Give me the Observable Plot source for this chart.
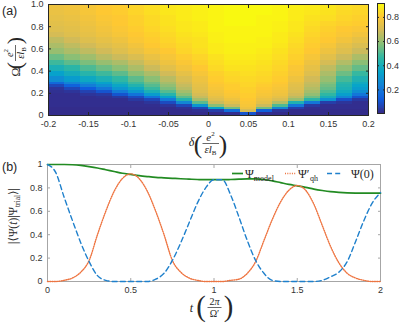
<!DOCTYPE html>
<html><head><meta charset="utf-8">
<script src="https://cdn.jsdelivr.net/npm/d3@7"></script>
<script src="https://cdn.jsdelivr.net/npm/@observablehq/plot@0.6"></script>
<style>
html,body{margin:0;padding:0;background:#fff;}
#fig{position:relative;width:399px;height:323px;overflow:hidden;background:#fff;}
#fig svg{position:absolute;}
</style></head><body><div id="fig"></div>
<script>
// ---------- Panel (a): heatmap data ----------
const deltas = [-0.19,-0.17,-0.15,-0.13,-0.11,-0.09,-0.07,-0.05,-0.03,-0.01,0.01,0.03,0.05,0.07,0.09,0.11,0.13,0.15,0.17,0.19];
const omegaEdges = [0,0.025,0.05,0.075,0.1,0.125,0.15,0.175,0.2,0.225,0.25,0.275,0.3,0.35,0.4,0.45,0.5,0.55,0.6,0.65,0.7,0.75,0.8,0.85,0.9,0.95,1];
// one list per delta column, values from Omega = 0 upward
const overlap = [
 [.01,.01,.01,.015,.015,.015,.015,.015,.02,.03,.07,.16,.27,.34,.41,.48,.54,.60,.63,.66,.70,.72,.73,.74,.75,.76],
 [.01,.01,.01,.015,.015,.015,.015,.015,.03,.07,.14,.24,.32,.39,.45,.52,.58,.63,.66,.69,.72,.73,.74,.75,.76,.77],
 [.01,.01,.01,.015,.015,.015,.015,.03,.06,.12,.22,.29,.37,.44,.50,.56,.61,.66,.69,.72,.74,.75,.76,.77,.78,.78],
 [.01,.01,.01,.015,.015,.015,.02,.04,.10,.20,.28,.34,.41,.48,.54,.60,.65,.69,.72,.74,.76,.77,.78,.79,.80,.80],
 [.01,.01,.01,.015,.015,.015,.04,.10,.21,.30,.36,.41,.46,.52,.58,.63,.68,.72,.74,.76,.78,.79,.80,.80,.81,.81],
 [.01,.01,.01,.015,.015,.04,.08,.19,.30,.37,.43,.48,.52,.58,.63,.67,.71,.75,.77,.79,.80,.81,.82,.82,.83,.83],
 [.01,.01,.01,.015,.03,.07,.19,.32,.41,.47,.51,.54,.58,.63,.68,.72,.75,.78,.80,.81,.82,.83,.84,.84,.85,.85],
 [.01,.01,.01,.03,.08,.21,.34,.44,.51,.56,.59,.62,.65,.69,.73,.76,.78,.80,.82,.83,.84,.85,.86,.86,.87,.87],
 [.01,.01,.02,.07,.25,.43,.52,.58,.62,.65,.67,.69,.71,.74,.77,.79,.81,.83,.84,.85,.86,.87,.87,.88,.88,.88],
 [.01,.02,.07,.30,.52,.62,.67,.70,.72,.73,.74,.75,.76,.78,.80,.82,.83,.85,.86,.86,.87,.88,.88,.89,.89,.89],
 [.01,.05,.35,.58,.68,.72,.74,.76,.77,.78,.79,.80,.81,.82,.84,.85,.86,.88,.88,.89,.89,.90,.90,.90,.90,.90],
 [.015,.17,.55,.68,.73,.76,.78,.79,.80,.81,.81,.82,.83,.84,.86,.87,.88,.89,.89,.90,.90,.90,.91,.91,.91,.91],
 [.10,.70,.76,.78,.79,.80,.81,.81,.82,.82,.83,.83,.84,.85,.86,.87,.88,.89,.89,.90,.90,.90,.91,.91,.91,.91],
 [.015,.13,.55,.68,.73,.75,.77,.78,.79,.80,.81,.82,.83,.84,.85,.86,.87,.88,.89,.89,.90,.90,.90,.90,.91,.91],
 [.01,.03,.25,.50,.64,.71,.74,.76,.77,.78,.79,.80,.81,.82,.83,.84,.85,.86,.87,.88,.88,.89,.89,.90,.90,.90],
 [.01,.01,.05,.20,.42,.60,.66,.69,.71,.72,.73,.74,.76,.78,.79,.81,.82,.83,.84,.85,.86,.87,.87,.88,.88,.89],
 [.01,.01,.015,.04,.20,.45,.54,.59,.62,.64,.66,.67,.69,.72,.74,.76,.78,.80,.81,.82,.83,.84,.85,.86,.87,.88],
 [.01,.01,.015,.015,.05,.28,.40,.46,.50,.53,.55,.57,.60,.63,.66,.70,.73,.76,.78,.80,.81,.82,.83,.85,.86,.87],
 [.01,.01,.015,.015,.03,.09,.25,.33,.38,.41,.43,.45,.49,.54,.59,.64,.68,.72,.74,.77,.79,.80,.82,.83,.84,.85],
 [.01,.01,.015,.015,.015,.04,.10,.20,.27,.32,.35,.38,.42,.47,.53,.58,.63,.68,.71,.74,.77,.79,.81,.82,.83,.84]
];
const xTicksA = [-0.2,-0.15,-0.1,-0.05,0,0.05,0.1,0.15,0.2];
const xTickLabelsA = ["-0.2","-0.15","-0.1","-0.05","0","0.05","0.1","0.15","0.2"];
const yTicksA = [0,0.2,0.4,0.6,0.8,1];
const yTickLabelsA = ["0","0.2","0.4","0.6","0.8","1.0"];
const colorDomain = [0.005, 0.915];
const cbTicks = [0.2,0.4,0.6,0.8];
const cbTickLabels = ["0.2","0.4","0.6","0.8"];
const parula = ["#352a87","#0f5cdd","#1481d6","#06a4ca","#2eb7a4","#87bf77","#d1bb59","#fec832","#f9fb0e"];

// ---------- Panel (b): time series ----------
const tVals = [0,0.05,0.1,0.15,0.2,0.25,0.3,0.35,0.4,0.45,0.5,0.55,0.6,0.65,0.7,0.75,0.8,0.85,0.9,0.95,1,1.05,1.1,1.15,1.2,1.25,1.3,1.35,1.4,1.45,1.5,1.55,1.6,1.65,1.7,1.75,1.8,1.85,1.9,1.95,2];
const psiModel = [1.0,1.0,1.0,0.998,0.992,0.982,0.97,0.955,0.94,0.925,0.915,0.905,0.897,0.89,0.886,0.882,0.878,0.875,0.872,0.87,0.87,0.87,0.872,0.875,0.877,0.877,0.872,0.86,0.845,0.83,0.818,0.805,0.79,0.778,0.768,0.762,0.758,0.756,0.755,0.755,0.755];
const psiQh = [0,0,0.01,0.03,0.08,0.18,0.4,0.6,0.77,0.88,0.92,0.88,0.77,0.6,0.4,0.18,0.08,0.03,0.01,0,0,0,0.01,0.02,0.07,0.17,0.35,0.53,0.68,0.78,0.82,0.78,0.66,0.48,0.3,0.16,0.07,0.03,0.01,0,0];
const psi0 = [1.0,0.93,0.72,0.52,0.33,0.17,0.05,0.01,0,0,0,0,0,0.02,0.07,0.18,0.33,0.5,0.67,0.8,0.87,0.87,0.74,0.55,0.35,0.18,0.07,0.01,0,0,0,0,0,0.01,0.04,0.08,0.17,0.34,0.52,0.67,0.76];
const xTicksB = [0,0.5,1,1.5,2];
const xTickLabelsB = ["0","0.5","1","1.5","2"];
const yTicksB = [0,0.2,0.4,0.6,0.8,1];
const yTickLabelsB = ["0","0.2","0.4","0.6","0.8","1"];
const seriesColors = {model:"#228b22", qh:"#ee7440", init:"#1f80cc"};
const dotted = "1,1.3", dashed = "5,3.2";

// ---------- helpers ----------
const fig = document.getElementById("fig");
const lab = (ticks, labels) => d => labels[ticks.indexOf(d)] ?? "";
const colorScale = {
  type: "linear",
  domain: parula.map((_, k) => colorDomain[0] + k / (parula.length - 1) * (colorDomain[1] - colorDomain[0])),
  range: parula, interpolate: "rgb", clamp: true
};
function boxAxes(xT, xL, yT, yL, tickColor, padX, padY) {
  return [
    Plot.axisX(xT, {anchor:"bottom", tickSize:0, tickPadding:padX, tickFormat:lab(xT,xL), label:null}),
    Plot.axisY(yT, {anchor:"left", tickSize:0, tickPadding:padY, tickFormat:lab(yT,yL), label:null}),
    Plot.axisX(xT, {anchor:"bottom", tickSize:3, dy:-3, tickFormat:()=>"", label:null, stroke:tickColor}),
    Plot.axisX(xT, {anchor:"top", tickSize:3, dy:3, tickFormat:()=>"", label:null, stroke:tickColor}),
    Plot.axisY(yT, {anchor:"left", tickSize:3, dx:3, tickFormat:()=>"", label:null, stroke:tickColor}),
    Plot.axisY(yT, {anchor:"right", tickSize:3, dx:-3, tickFormat:()=>"", label:null, stroke:tickColor}),
    Plot.frame({stroke:tickColor})
  ];
}
const baseStyle = {fontFamily:"'Liberation Sans', Arial, sans-serif", fontSize:"9px", color:"#333", background:"transparent", overflow:"visible"};

// ---------- Panel (a) ----------
const half = (deltas[1] - deltas[0]) / 2;
const cells = deltas.flatMap((d, i) => overlap[i].map((v, j) => ({x1: d - half, x2: d + half, y1: omegaEdges[j], y2: omegaEdges[j + 1], v})));
const plotA = Plot.plot({
  width: 399, height: 160,
  marginLeft: 48, marginRight: 31, marginTop: 4, marginBottom: 45,
  x: {domain: [-0.2, 0.2]},
  y: {domain: [0, 1]},
  color: colorScale,
  style: baseStyle,
  marks: [
    Plot.rect(cells, {x1:"x1", x2:"x2", y1:"y1", y2:"y2", fill:"v", shapeRendering:"crispEdges"}),
    ...boxAxes(xTicksA, xTickLabelsA, yTicksA, yTickLabelsA, "#262626", 5, 5)
  ]
});
plotA.style.left = "0px"; plotA.style.top = "0px";
fig.appendChild(plotA);

// ---------- colorbar ----------
const nSteps = 120;
const cbStep = (colorDomain[1] - colorDomain[0]) / nSteps;
const cbValues = d3.range(nSteps).map(k => colorDomain[0] + (k + 0.5) * cbStep);
const plotCb = Plot.plot({
  width: 29, height: 120,
  marginLeft: 7, marginRight: 15, marginTop: 3, marginBottom: 7,
  x: {domain: [0, 1], axis: null},
  y: {domain: colorDomain},
  color: colorScale,
  style: baseStyle,
  marks: [
    Plot.rect(cbValues, {x1: 0, x2: 1, y1: d => d - cbStep / 2, y2: d => d + cbStep / 2, fill: d => d, shapeRendering:"crispEdges"}),
    Plot.axisY(cbTicks, {anchor:"right", tickSize:0, tickPadding:2, tickFormat:lab(cbTicks, cbTickLabels), label:null}),
    Plot.axisY(cbTicks, {anchor:"right", tickSize:2, dx:-2, tickFormat:()=>"", label:null, stroke:"#262626"}),
    Plot.axisY(cbTicks, {anchor:"left", tickSize:2, dx:2, tickFormat:()=>"", label:null, stroke:"#262626"}),
    Plot.frame({stroke:"#262626"})
  ]
});
plotCb.style.left = "370px"; plotCb.style.top = "0px";
fig.appendChild(plotCb);

// ---------- Panel (b) ----------
const rows = (vals) => tVals.map((t, i) => ({t, v: vals[i]}));
const plotB = Plot.plot({
  width: 399, height: 163,
  marginLeft: 47, marginRight: 19, marginTop: 4, marginBottom: 42,
  x: {domain: [0, 2]},
  y: {domain: [0, 1]},
  style: baseStyle,
  marks: [
    ...boxAxes(xTicksB, xTickLabelsB, yTicksB, yTickLabelsB, "#a6a6a6", 5, 5),
    Plot.line(rows(psiModel), {x:"t", y:"v", stroke:seriesColors.model, strokeWidth:1.7, curve:"monotone-x"}),
    Plot.line(rows(psiQh), {x:"t", y:"v", stroke:seriesColors.qh, strokeWidth:1.4, strokeDasharray:dotted, curve:"monotone-x"}),
    Plot.line(rows(psi0), {x:"t", y:"v", stroke:seriesColors.init, strokeWidth:1.4, strokeDasharray:dashed, curve:"monotone-x"})
  ]
});
plotB.style.left = "0px"; plotB.style.top = "160px";
fig.appendChild(plotB);

// ---------- overlay text (panel letters, math labels, legend) ----------
const ov = d3.select(fig).append("svg").attr("width", 399).attr("height", 323)
  .style("left", "0px").style("top", "0px").style("pointer-events", "none")
  .attr("font-family", "'Liberation Serif','DejaVu Serif',serif").attr("fill", "#262626");
function txt(g, x, y, parts, size, anchor) {
  const t = g.append("text").attr("x", x).attr("y", y).attr("font-size", size).attr("text-anchor", anchor || "start");
  for (const p of parts) {
    const s = t.append("tspan").text(p.t);
    if (p.i) s.attr("font-style", "italic");
    if (p.s) s.attr("font-size", p.s);
    if (p.dy) s.attr("dy", p.dy);
    if (p.dx) s.attr("dx", p.dx);
  }
  return t;
}
function paren(g, ch, x, yTop, yBot) {
  const s = (yBot - yTop) / 0.871, base = yBot - 0.177 * s;
  g.append("text").attr("x", x).attr("y", base).attr("text-anchor", "middle").attr("font-size", s.toFixed(1)).text(ch);
}
function hline(g, x1, x2, y) {
  g.append("line").attr("x1", x1).attr("x2", x2).attr("y1", y).attr("y2", y).attr("stroke", "#262626").attr("stroke-width", 0.7);
}
// panel letters
ov.append("text").attr("x", 2).attr("y", 15).attr("font-family", "'Liberation Sans',Arial,sans-serif").attr("font-size", 12.5).text("(a)");
ov.append("text").attr("x", 2).attr("y", 171).attr("font-family", "'Liberation Sans',Arial,sans-serif").attr("font-size", 12.5).text("(b)");

// (a) x label: δ (e²/εl_B)
txt(ov, 191.5, 146, [{t:"δ", i:1}], 12, "middle");
paren(ov, "(", 198, 135, 157);
txt(ov, 210.5, 140.5, [{t:"e", i:1}, {t:"2", s:7, dy:-4.5}], 11, "middle");
hline(ov, 202.5, 219, 143.5);
txt(ov, 210.5, 152.5, [{t:"ε", i:1}, {t:"l", i:1}, {t:"B", s:7, dy:2.5}], 11, "middle");
paren(ov, ")", 223, 135, 157);

// (a) y label: Ω (e²/εl_B)
const gy = ov.append("g").attr("transform", "translate(15,58) rotate(-90)");
txt(gy, -14, 4.5, [{t:"Ω"}], 12, "middle");
paren(gy, "(", -7.5, -8.5, 10.5);
txt(gy, 5, -2.5, [{t:"e", i:1}, {t:"2", s:7, dy:-4.5}], 10.5, "middle");
hline(gy, -3, 13, 0.5);
txt(gy, 5, 9, [{t:"ε", i:1}, {t:"l", i:1}, {t:"B", s:7, dy:2}], 10.5, "middle");
paren(gy, ")", 17.5, -8.5, 10.5);

// (b) y label: |⟨Ψ(t)|Ψ_trial⟩|
const gy2 = ov.append("g").attr("transform", "translate(13,216) rotate(-90)");
txt(gy2, 0, 4, [{t:"|⟨Ψ("}, {t:"t", i:1}, {t:")|Ψ"}, {t:"trial", s:7.5, dy:2.5}, {t:"⟩|", dy:-2.5}], 11.5, "middle");

// (b) x label: t (2π/Ω′)
txt(ov, 191.5, 312, [{t:"t", i:1}], 12, "middle");
paren(ov, "(", 201, 296, 321);
txt(ov, 214.5, 305, [{t:"2"}, {t:"π", i:1}], 10, "middle");
hline(ov, 207.5, 221.5, 307.5);
txt(ov, 214.5, 317, [{t:"Ω′"}], 10, "middle");
paren(ov, ")", 228.5, 296, 321);

// (b) legend
const ly = 173.5;
ov.append("line").attr("x1", 232).attr("x2", 243).attr("y1", ly).attr("y2", ly).attr("stroke", seriesColors.model).attr("stroke-width", 1.7);
txt(ov, 245, 178, [{t:"Ψ"}, {t:"model", s:8, dy:2.5}], 12);
ov.append("line").attr("x1", 285).attr("x2", 296).attr("y1", ly).attr("y2", ly).attr("stroke", seriesColors.qh).attr("stroke-width", 1.4).attr("stroke-dasharray", dotted);
txt(ov, 298, 178, [{t:"Ψ′"}], 12);
txt(ov, 310, 181, [{t:"qh"}], 8);
ov.append("line").attr("x1", 327).attr("x2", 341).attr("y1", ly).attr("y2", ly).attr("stroke", seriesColors.init).attr("stroke-width", 1.4).attr("stroke-dasharray", dashed);
txt(ov, 351, 178, [{t:"Ψ(0)"}], 12);
</script></body></html>
